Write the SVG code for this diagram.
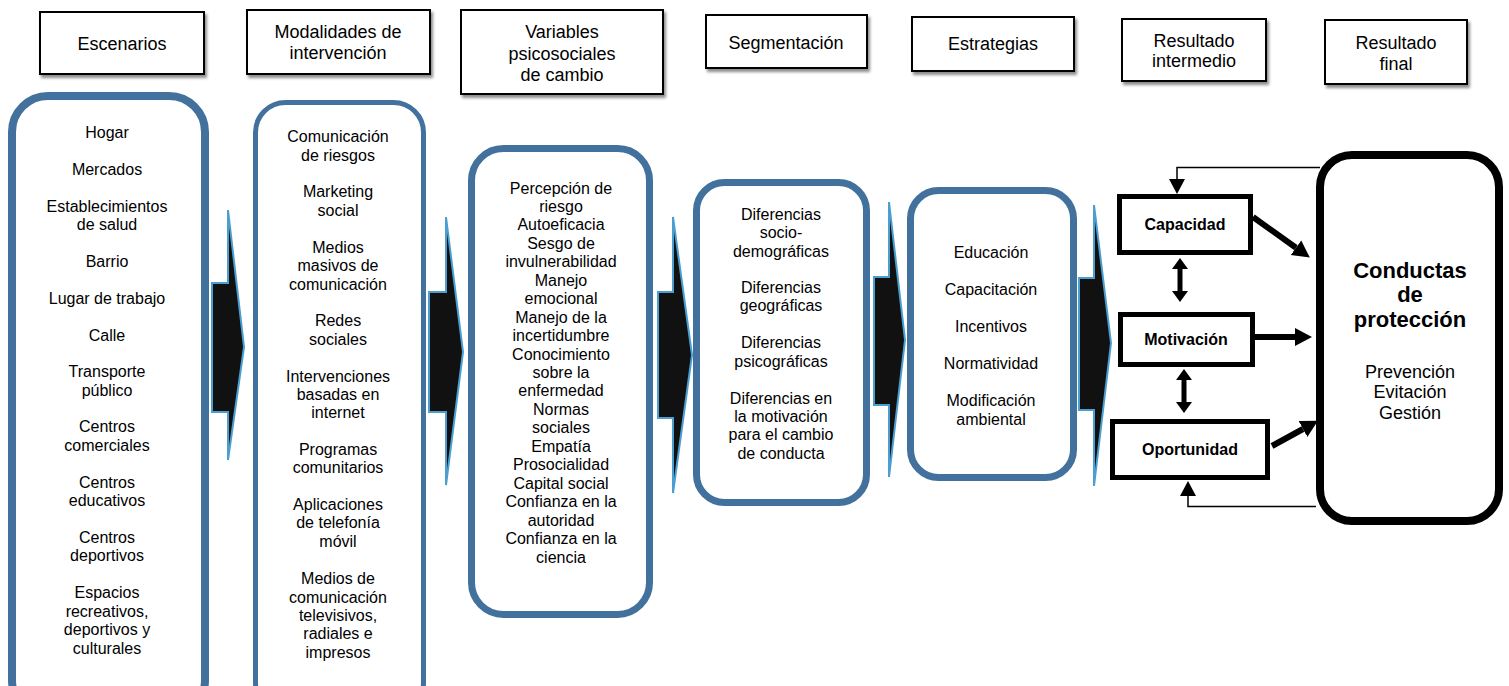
<svg xmlns="http://www.w3.org/2000/svg" width="1509" height="686" viewBox="0 0 1509 686">
<style>
.hdr{fill:#fff;stroke:#000;stroke-width:2;filter:url(#sh)}
.ht{font-family:"Liberation Sans",Arial,sans-serif;font-size:18px;fill:#000;text-anchor:middle}
.lt{font-family:"Liberation Sans",Arial,sans-serif;font-size:16px;fill:#000;text-anchor:middle}
.bt{font-family:"Liberation Sans",Arial,sans-serif;font-size:16px;font-weight:bold;fill:#000;text-anchor:middle}
.box{fill:#fff;stroke:#41719c}
.chev{fill:#111;stroke:#4a9fd0;stroke-width:2}
.rb{fill:#fff;stroke:#000;stroke-width:5}
.thin{fill:none;stroke:#000;stroke-width:1.5}
.thick{fill:none;stroke:#000;stroke-width:6}
.dbl{fill:none;stroke:#000;stroke-width:5}
</style>
<defs>
<filter id="sh" x="-10%" y="-10%" width="130%" height="140%">
<feDropShadow dx="2" dy="3" stdDeviation="1.5" flood-color="#000" flood-opacity="0.45"/>
</filter>
<marker id="ah" markerUnits="userSpaceOnUse" markerWidth="18" markerHeight="20" refX="0" refY="10" orient="auto">
<path d="M0,1 L17,10 L0,19 z" fill="#000"/>
</marker>
<marker id="dh" markerUnits="userSpaceOnUse" markerWidth="12" markerHeight="16" refX="0" refY="8" orient="auto-start-reverse">
<path d="M0,0 L11,8 L0,16 z" fill="#000"/>
</marker>
</defs>
<rect width="1509" height="686" fill="#fff"/>

<g id="h-escenarios"><rect class="hdr" x="40" y="12" width="164" height="62"/><text class="ht" x="122" y="50">Escenarios</text></g>
<g id="h-modalidades"><rect class="hdr" x="247" y="10" width="183" height="64"/><text class="ht" x="338" y="38">Modalidades de</text><text class="ht" x="338" y="59">intervención</text></g>
<g id="h-variables"><rect class="hdr" x="461" y="10" width="202" height="84"/><text class="ht" x="562" y="38">Variables</text><text class="ht" x="562" y="60">psicosociales</text><text class="ht" x="562" y="81">de cambio</text></g>
<g id="h-segmentacion"><rect class="hdr" x="706" y="15" width="161" height="53"/><text class="ht" x="786" y="49">Segmentación</text></g>
<g id="h-estrategias"><rect class="hdr" x="912" y="17" width="162" height="54"/><text class="ht" x="993" y="50">Estrategias</text></g>
<g id="h-intermedio"><rect class="hdr" x="1122" y="19" width="144" height="62"/><text class="ht" x="1194" y="47">Resultado</text><text class="ht" x="1194" y="67">intermedio</text></g>
<g id="h-final"><rect class="hdr" x="1325" y="20" width="142" height="64"/><text class="ht" x="1396" y="49">Resultado</text><text class="ht" x="1396" y="70">final</text></g>

<g id="escenarios">
<rect class="box" x="12" y="96" width="193" height="620" rx="36" stroke-width="8" stroke="#44729e"/>
<text class="lt" x="107" y="137.5">Hogar</text>
<text class="lt" x="107" y="174.5">Mercados</text>
<text class="lt" x="107" y="211.5">Establecimientos</text>
<text class="lt" x="107" y="229.5">de salud</text>
<text class="lt" x="107" y="266.5">Barrio</text>
<text class="lt" x="107" y="303.5">Lugar de trabajo</text>
<text class="lt" x="107" y="340.5">Calle</text>
<text class="lt" x="107" y="376.5">Transporte</text>
<text class="lt" x="107" y="395.5">público</text>
<text class="lt" x="107" y="431.5">Centros</text>
<text class="lt" x="107" y="450.5">comerciales</text>
<text class="lt" x="107" y="487.5">Centros</text>
<text class="lt" x="107" y="505.5">educativos</text>
<text class="lt" x="107" y="542.5">Centros</text>
<text class="lt" x="107" y="560.5">deportivos</text>
<text class="lt" x="107" y="597.5">Espacios</text>
<text class="lt" x="107" y="616.5">recreativos,</text>
<text class="lt" x="107" y="634.5">deportivos y</text>
<text class="lt" x="107" y="653.5">culturales</text>
</g>

<g id="modalidades">
<rect class="box" x="255.5" y="102.5" width="168" height="610" rx="30" stroke-width="5" stroke="#2e75b6"/>
<text class="lt" x="338" y="141.5">Comunicación</text>
<text class="lt" x="338" y="160.5">de riesgos</text>
<text class="lt" x="338" y="196.5">Marketing</text>
<text class="lt" x="338" y="215.5">social</text>
<text class="lt" x="338" y="252.5">Medios</text>
<text class="lt" x="338" y="270.5">masivos de</text>
<text class="lt" x="338" y="289.5">comunicación</text>
<text class="lt" x="338" y="325.5">Redes</text>
<text class="lt" x="338" y="344.5">sociales</text>
<text class="lt" x="338" y="381.5">Intervenciones</text>
<text class="lt" x="338" y="399.5">basadas en</text>
<text class="lt" x="338" y="417.5">internet</text>
<text class="lt" x="338" y="454.5">Programas</text>
<text class="lt" x="338" y="472.5">comunitarios</text>
<text class="lt" x="338" y="509.5">Aplicaciones</text>
<text class="lt" x="338" y="527.5">de telefonía</text>
<text class="lt" x="338" y="546.5">móvil</text>
<text class="lt" x="338" y="583.5">Medios de</text>
<text class="lt" x="338" y="602.5">comunicación</text>
<text class="lt" x="338" y="620.5">televisivos,</text>
<text class="lt" x="338" y="638.5">radiales e</text>
<text class="lt" x="338" y="657.5">impresos</text>
</g>

<g id="variables">
<rect class="box" x="471.5" y="148.5" width="178" height="466" rx="32" stroke-width="7"/>
<text class="lt" x="561" y="193.5">Percepción de</text>
<text class="lt" x="561" y="211.9">riesgo</text>
<text class="lt" x="561" y="230.4">Autoeficacia</text>
<text class="lt" x="561" y="248.8">Sesgo de</text>
<text class="lt" x="561" y="267.3">invulnerabilidad</text>
<text class="lt" x="561" y="285.7">Manejo</text>
<text class="lt" x="561" y="304.2">emocional</text>
<text class="lt" x="561" y="322.6">Manejo de la</text>
<text class="lt" x="561" y="341.1">incertidumbre</text>
<text class="lt" x="561" y="359.5">Conocimiento</text>
<text class="lt" x="561" y="378.0">sobre la</text>
<text class="lt" x="561" y="396.4">enfermedad</text>
<text class="lt" x="561" y="414.9">Normas</text>
<text class="lt" x="561" y="433.3">sociales</text>
<text class="lt" x="561" y="451.8">Empatía</text>
<text class="lt" x="561" y="470.2">Prosocialidad</text>
<text class="lt" x="561" y="488.7">Capital social</text>
<text class="lt" x="561" y="507.1">Confianza en la</text>
<text class="lt" x="561" y="525.6">autoridad</text>
<text class="lt" x="561" y="544.0">Confianza en la</text>
<text class="lt" x="561" y="562.5">ciencia</text>
</g>

<g id="segmentacion">
<rect class="box" x="696.5" y="182.5" width="170" height="320" rx="28" stroke-width="7"/>
<text class="lt" x="781" y="219.5">Diferencias</text>
<text class="lt" x="781" y="237.5">socio-</text>
<text class="lt" x="781" y="256.5">demográficas</text>
<text class="lt" x="781" y="292.5">Diferencias</text>
<text class="lt" x="781" y="310.5">geográficas</text>
<text class="lt" x="781" y="347.5">Diferencias</text>
<text class="lt" x="781" y="366.5">psicográficas</text>
<text class="lt" x="781" y="403.5">Diferencias en</text>
<text class="lt" x="781" y="421.5">la motivación</text>
<text class="lt" x="781" y="439.5">para el cambio</text>
<text class="lt" x="781" y="458.5">de conducta</text>
</g>

<g id="estrategias">
<rect class="box" x="910.5" y="190.5" width="163" height="287" rx="28" stroke-width="7"/>
<text class="lt" x="991" y="257.5">Educación</text>
<text class="lt" x="991" y="294.5">Capacitación</text>
<text class="lt" x="991" y="331.5">Incentivos</text>
<text class="lt" x="991" y="368.5">Normatividad</text>
<text class="lt" x="991" y="405.5">Modificación</text>
<text class="lt" x="991" y="424.5">ambiental</text>
</g>

<g id="capacidad"><rect class="rb" x="1119.5" y="196.5" width="131" height="56"/><text class="bt" x="1185" y="229.5">Capacidad</text></g>
<g id="motivacion"><rect class="rb" x="1120.5" y="314.5" width="132" height="50"/><text class="bt" x="1186" y="345">Motivación</text></g>
<g id="oportunidad"><rect class="rb" x="1112.5" y="421.5" width="155" height="56"/><text class="bt" x="1190" y="455">Oportunidad</text></g>

<g id="conductas">
<rect x="1320" y="155" width="179" height="366" rx="32" fill="#fff" stroke="#000" stroke-width="8"/>
<text class="bt" x="1410" y="278" style="font-size:22px">Conductas</text>
<text class="bt" x="1410" y="302" style="font-size:22px">de</text>
<text class="bt" x="1410" y="327" style="font-size:22px">protección</text>
<text class="ht" x="1410" y="378">Prevención</text>
<text class="ht" x="1410" y="398">Evitación</text>
<text class="ht" x="1410" y="419">Gestión</text>
</g>

<g id="connectors">
<polygon class="chev" points="212,283 228,283 228,210 244,347 228,460 228,412 212,412"/>
<polygon class="chev" points="429,292 446,292 446,217 463,352 446,485 446,412 429,412"/>
<polygon class="chev" points="658,292 673,292 673,217 692,355 673,493 673,418 658,418"/>
<polygon class="chev" points="874,277 889,277 889,202 905,340 889,477 889,405 874,405"/>
<polygon class="chev" points="1079,278 1094,278 1094,205 1111,343 1094,486 1094,410 1079,410"/>

<path class="thin" d="M1320,167.5 H1177 V180"/>
<polygon points="1169,179 1185,179 1177,194" fill="#000"/>
<path class="thin" d="M1316,506.5 H1188 V494"/>
<polygon points="1180,496 1196,496 1188,481" fill="#000"/>

<line class="thick" x1="1253" y1="217" x2="1296" y2="247.7" marker-end="url(#ah)"/>
<line class="thick" x1="1255" y1="337" x2="1295" y2="337" marker-end="url(#ah)"/>
<line class="thick" x1="1272" y1="446" x2="1303" y2="429" marker-end="url(#ah)"/>

<line class="dbl" x1="1180" y1="269" x2="1180" y2="291" marker-start="url(#dh)" marker-end="url(#dh)"/>
<line class="dbl" x1="1184" y1="380" x2="1184" y2="402" marker-start="url(#dh)" marker-end="url(#dh)"/>
</g>
</svg>
